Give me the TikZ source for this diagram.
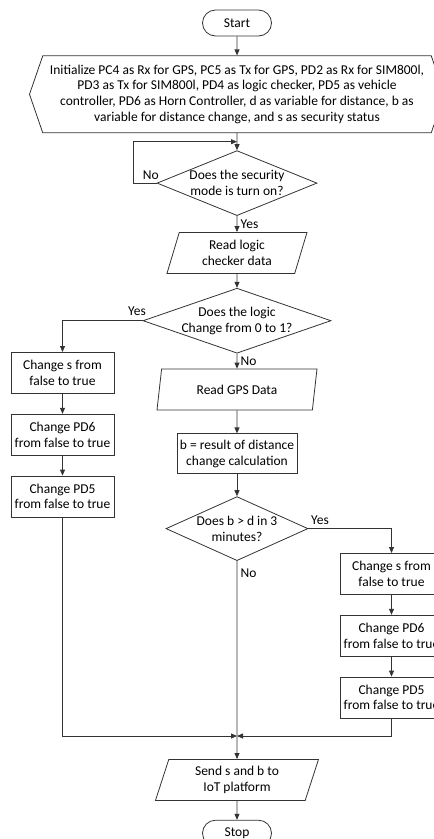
\documentclass[tikz,border=0pt]{standalone}
\usepackage{fontspec}
\setmainfont{Carlito}
\usetikzlibrary{arrows.meta,positioning,shapes.geometric,shapes.symbols,calc}
\tikzset{
  terminal/.style={draw=black!80,rounded corners=13pt,minimum width=69pt,minimum height=26pt,inner sep=0pt},
  prep/.style={signal,signal to=west and east,signal pointer angle=142,draw=black!80,align=center,minimum width=415pt,minimum height=77pt,inner sep=0pt},
  stage/.style={draw=black!80,minimum width=103pt,minimum height=41pt,inner sep=0pt,align=center},
  io/.style={trapezium,trapezium left angle=64,trapezium right angle=116,trapezium stretches body,draw=black!80,minimum height=41pt,inner sep=0pt,align=center},
  decision/.style={diamond,draw=black!80,aspect=1,inner sep=0pt},
  line/.style={draw=black!80,->}
}
\begin{document}
\begin{tikzpicture}[x=1pt,y=-1pt,line width=0.8pt,>={Triangle[length=6pt,width=5pt]},font=\fontsize{13.5pt}{15.7pt}\selectfont]
  \useasboundingbox (0,0) rectangle (434,839);
  % main column
  \node[terminal] (start) at (237,23) {Start};
  \node[prep,below=19pt of start] (init) {Initialize PC4 as Rx for GPS, PC5 as Tx for GPS, PD2 as Rx for SIM800l,\\PD3 as Tx for SIM800l, PD4 as logic checker, PD5 as vehicle\\controller, PD6 as Horn Controller, d as variable for distance, b as\\variable for distance change, and s as security status};
  \node[decision,minimum width=160pt,minimum height=65pt,below=17pt of init,
    label={[align=center]center:Does the security\\mode is turn on?}] (secure) {};
  \node[io,minimum width=140pt,below=16pt of secure] (readlogic) {Read logic\\checker data};
  \node[decision,minimum width=188pt,minimum height=65pt,below=14pt of readlogic,
    label={[align=center]center:Does the logic\\Change from 0 to 1?}] (logic) {};
  \node[io,minimum width=160pt,below=15pt of logic] (gps) {Read GPS Data};
  \node[stage,minimum width=120pt,minimum height=40pt,below=23pt of gps] (calc) {b = result of distance\\change calculation};
  \node[decision,minimum width=142pt,minimum height=64pt,below=22pt of calc,
    label={[align=center]center:Does b > d in 3\\minutes?}] (moved) {};
  \node[io,minimum width=163pt,below=198pt of moved] (send) {Send s and b to\\IoT platform};
  \node[terminal,below=19pt of send] (stop) {Stop};

  % left column
  \node[stage,anchor=north] (lset) at (62.5,352) {Change s from\\false to true};
  \node[stage,below=20pt of lset] (lhorn) {Change PD6\\from false to true};
  \node[stage,below=20pt of lhorn] (lveh) {Change PD5\\from false to true};

  % right column
  \node[stage,anchor=north] (rset) at (391.5,553) {Change s from\\false to true};
  \node[stage,below=20pt of rset] (rhorn) {Change PD6\\from false to true};
  \node[stage,below=20pt of rhorn] (rveh) {Change PD5\\from false to true};

  \coordinate (loopin) at ($(init.south)!0.5!(secure.north)$);
  \coordinate (loopbend) at ($(secure.west)+(-23pt,0)$);
  \coordinate (join) at (237,736);

  \draw[line] (start) -- (init);
  \draw[line] (init) -- (secure);
  \draw[line] (secure.west) -- node[pos=.25,above]{No} (loopbend) |- (loopin);
  \draw[line] (secure) -- node[right]{Yes} (readlogic);
  \draw[line] (readlogic) -- (logic);
  \draw[line] (logic.west) -| node[pos=.035,above,yshift=1pt]{Yes} (lset);
  \draw[line] (logic) -- node[right]{No} (gps);
  \draw[line] (gps) -- (calc);
  \draw[line] (calc) -- (moved);
  \draw[line] (moved.east) -| node[pos=.07,above]{Yes} (rset);
  \draw[line] (moved) -- node[pos=.06,right]{No} (send);
  \draw[line] (lset) -- (lhorn);
  \draw[line] (lhorn) -- (lveh);
  \draw[line] (rset) -- (rhorn);
  \draw[line] (rhorn) -- (rveh);
  \draw[line] (lveh) |- (join);
  \draw[line] (rveh) |- (join);
  \draw[line] (send) -- (stop);
\end{tikzpicture}
\end{document}
